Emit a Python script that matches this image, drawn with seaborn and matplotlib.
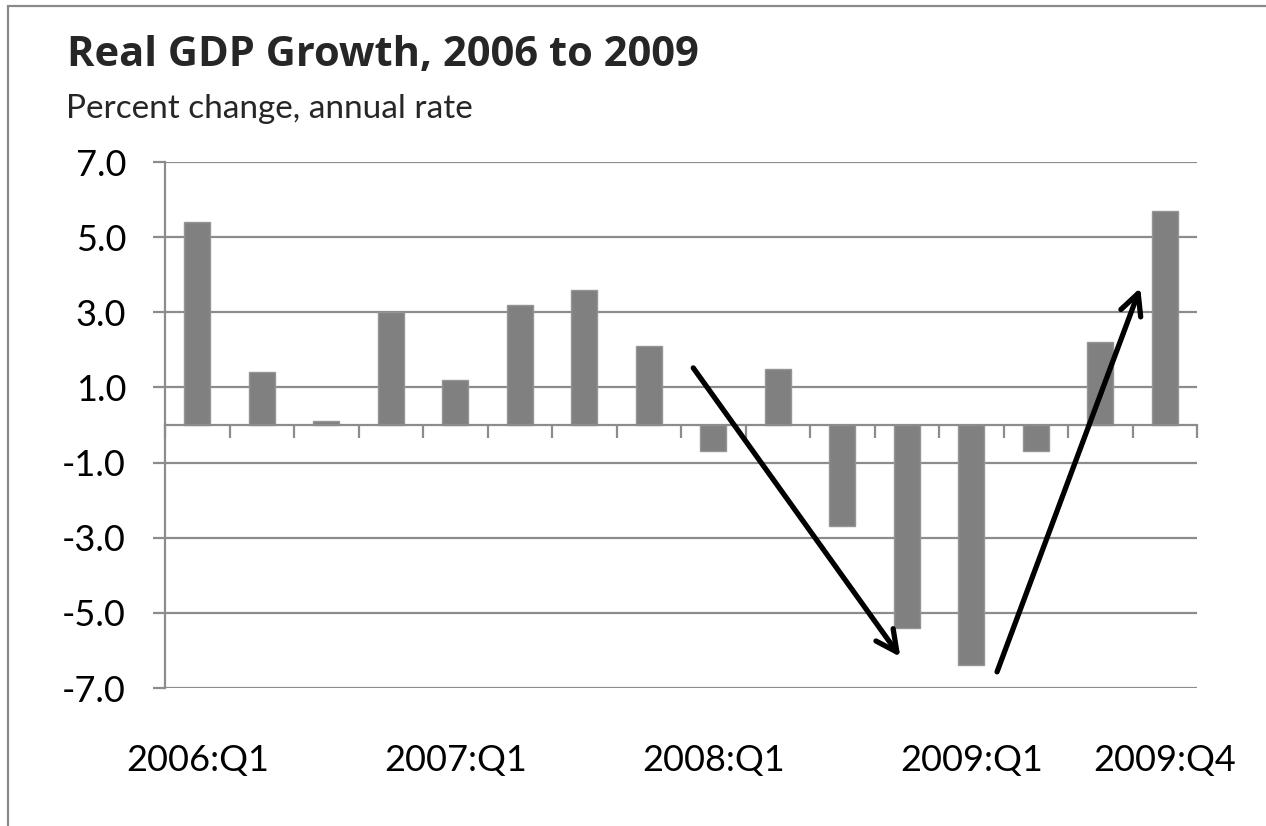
import matplotlib
matplotlib.use("Agg")
import matplotlib.pyplot as plt
import matplotlib.patches as mpatches
import seaborn as sns
import numpy as np

# Quarterly real GDP growth, percent change at an annual rate
quarters = [f"{y}:Q{q}" for y in (2006, 2007, 2008, 2009) for q in (1, 2, 3, 4)]
growth = [5.4, 1.4, 0.1, 3.0, 1.2, 3.2, 3.6, 2.1,
          -0.7, 1.5, -2.7, -5.4, -6.4, -0.7, 2.2, 5.7]

# Axis labels shown along the bottom
shown_labels = ["2006:Q1", "2007:Q1", "2008:Q1", "2009:Q1", "2009:Q4"]
y_ticks = [-7.0, -5.0, -3.0, -1.0, 1.0, 3.0, 5.0, 7.0]

# Trend arrows: (start quarter pos, start value) -> (end quarter pos, end value)
arrows = [((7.69, 1.52), (10.90, -6.17)),
          ((12.40, -6.57), (14.62, 3.65))]

sns.set_theme(style="white")
plt.rcParams["font.family"] = ["Lato", "DejaVu Sans"]

W, H = 1266, 826
fig = plt.figure(figsize=(W / 100, H / 100), dpi=100)
fig.patch.set_facecolor("white")

# Outer chart frame
fig.add_artist(mpatches.Rectangle((8 / W, -0.05), 1.2, 1 - 6 / H + 0.05,
                                  transform=fig.transFigure, fill=False,
                                  edgecolor="#8a8a8a", lw=1.6))

ax = fig.add_axes([165 / W, (H - 688) / H, (1197 - 165) / W, (688 - 162) / H])

grid_color = "#8c8c8c"
sns.barplot(x=quarters, y=growth, color="#808080", width=0.4,
            edgecolor="#959595", linewidth=1.0, saturation=1, ax=ax, zorder=3)

ax.set_xlim(-0.5, len(quarters) - 0.5)
ax.set_ylim(-7, 7)
ax.set_yticks(y_ticks)
ax.set_yticklabels([f"{v:.1f}" for v in y_ticks])
ax.yaxis.grid(True, color=grid_color, lw=1.6, zorder=0)
ax.set_axisbelow(True)

for s in ("top", "right"):
    ax.spines[s].set_visible(False)
ax.spines["left"].set_color(grid_color)
ax.spines["left"].set_linewidth(1.6)
ax.spines["bottom"].set_position(("data", 0))
ax.spines["bottom"].set_color(grid_color)
ax.spines["bottom"].set_linewidth(1.6)
ax.spines["bottom"].set_zorder(4)

ax.tick_params(axis="y", which="both", left=True, length=9, width=1.6,
               color=grid_color, pad=19, labelsize=26, labelcolor="black")
# Category boundary ticks on the zero line
ax.set_xticks(np.arange(-0.5, len(quarters), 1.0))
ax.set_xticklabels([])
ax.tick_params(axis="x", which="both", bottom=True, direction="out", length=9,
               width=1.6, color=grid_color)
ax.set_xlabel("")
ax.set_ylabel("")

# Date labels along the bottom of the plot area
sec = ax.secondary_xaxis("bottom")
sec.set_xticks([quarters.index(q) for q in shown_labels], labels=shown_labels)
sec.tick_params(length=0, pad=40, labelsize=26, labelcolor="black")
sec.spines["bottom"].set_visible(False)

for (x0, y0), (x1, y1) in arrows:
    ax.annotate("", xy=(x1, y1), xytext=(x0, y0),
                arrowprops=dict(arrowstyle="->", lw=3.8, color="black",
                                mutation_scale=38, shrinkA=0, shrinkB=0),
                zorder=5)

fig.text(67 / W, 1 - 66 / H, "Real GDP Growth, 2006 to 2009",
         fontsize=30, fontweight="bold", ha="left", va="baseline",
         family=["Open Sans", "DejaVu Sans"])
fig.text(66 / W, 1 - 118 / H, "Percent change, annual rate",
         fontsize=24, ha="left", va="baseline")

fig.savefig("out.png", dpi=100, facecolor="white")
